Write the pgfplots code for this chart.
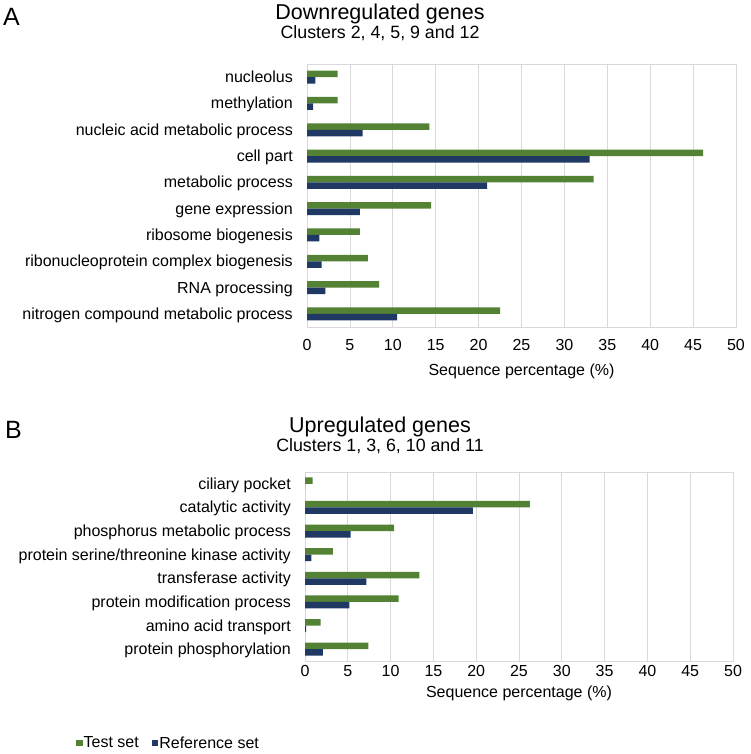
\documentclass[border=0pt]{standalone}
\usepackage{fontspec}
\setmainfont{Liberation Sans}
\usepackage{pgfplots}
\pgfplotsset{compat=1.18}
\definecolor{testg}{HTML}{548235}
\definecolor{refb}{HTML}{203864}
\definecolor{gridc}{HTML}{D9D9D9}
\pgfplotsset{
  mybar/.style={
    xbar, scale only axis, anchor=north west,
    xmin=0, xmax=50, xtick={0,5,...,50},
    xmajorgrids, major grid style={gridc, line width=0.8pt},
    axis line style={gridc, line width=0.8pt},
    y dir=reverse,
    major tick length=0pt,
    bar width=6.5pt,
    tick label style={font=\fontsize{16}{19}\selectfont, text=black},
    /pgf/number format/assume math mode=true,
    xticklabel style={inner sep=0pt, anchor=base, yshift=-23.5pt},
    yticklabel style={inner sep=0pt, anchor=base east, xshift=-14pt, yshift=-5.5pt},
    xlabel={Sequence percentage (\%)},
    xlabel style={font=\fontsize{16}{19}\selectfont, at={(axis description cs:0.5,0)}, anchor=base, inner sep=0pt, yshift=-48pt},
    ytick={0,...,9},
  },
  testbar/.style={fill=testg, draw=none, bar shift=3.25pt},
  refbar/.style={fill=refb, draw=none, bar shift=-3.25pt},
}
\begin{document}
\begin{tikzpicture}
\useasboundingbox (0,0) rectangle (750pt,-754pt);
\node[anchor=base west, inner sep=0pt, font=\fontsize{25}{30}\selectfont] at (3pt,-26pt) {A};
\node[anchor=base, inner sep=0pt, font=\fontsize{21.5}{25}\selectfont] at (380pt,-20pt) {Downregulated genes};
\node[anchor=base, inner sep=0pt, font=\fontsize{17.8}{20}\selectfont] at (380pt,-39pt) {Clusters 2, 4, 5, 9 and 12};
\begin{axis}[mybar,
  at={(307pt,-64pt)}, width=429pt, height=263pt,
  ymin=-0.5, ymax=9.5,
  yticklabels={nucleolus, methylation, nucleic acid metabolic process, cell part, metabolic process, gene expression, ribosome biogenesis, ribonucleoprotein complex biogenesis, RNA processing, nitrogen compound metabolic process},
]
\addplot[testbar] coordinates {(3.57,0) (3.57,1) (14.26,2) (46.16,3) (33.41,4) (14.46,5) (6.16,6) (7.09,7) (8.41,8) (22.5,9)};
\addplot[refbar] coordinates {(0.97,0) (0.70,1) (6.47,2) (32.95,3) (21.0,4) (6.16,5) (1.43,6) (1.71,7) (2.13,8) (10.5,9)};
\end{axis}
\node[anchor=base west, inner sep=0pt, font=\fontsize{25}{30}\selectfont] at (5pt,-438pt) {B};
\node[anchor=base, inner sep=0pt, font=\fontsize{21.5}{25}\selectfont] at (380pt,-432pt) {Upregulated genes};
\node[anchor=base, inner sep=0pt, font=\fontsize{17.8}{20}\selectfont] at (380pt,-451pt) {Clusters 1, 3, 6, 10 and 11};
\begin{axis}[mybar,
  at={(305pt,-472pt)}, width=428pt, height=189pt,
  ymin=-0.5, ymax=7.5, ytick={0,...,7},
  xticklabel style={yshift=8pt},
  xlabel style={yshift=12pt},
  yticklabels={ciliary pocket, catalytic activity, phosphorus metabolic process, protein serine/threonine kinase activity, transferase activity, protein modification process, amino acid transport, protein phosphorylation},
  legend columns=2,
  legend style={at={(axis description cs:0,0)}, anchor=west, xshift=-229pt, yshift=-82pt, draw=none, fill=none, inner sep=0pt, font=\fontsize{16}{19}\selectfont, nodes={inner sep=1pt, anchor=center}, /tikz/every even column/.append style={column sep=12pt}},
  legend image code/.code={\fill[#1] (0pt,-3.25pt) rectangle (6.5pt,3.25pt);},
]
\addplot[testbar] coordinates {(0.9,0) (26.27,1) (10.4,2) (3.27,3) (13.37,4) (10.95,5) (1.83,6) (7.4,7)};
\addplot[refbar] coordinates {(0,0) (19.6,1) (5.34,2) (0.74,3) (7.17,4) (5.18,5) (0.12,6) (2.1,7)};
\legend{Test set, Reference set}
\end{axis}
\end{tikzpicture}
\end{document}
